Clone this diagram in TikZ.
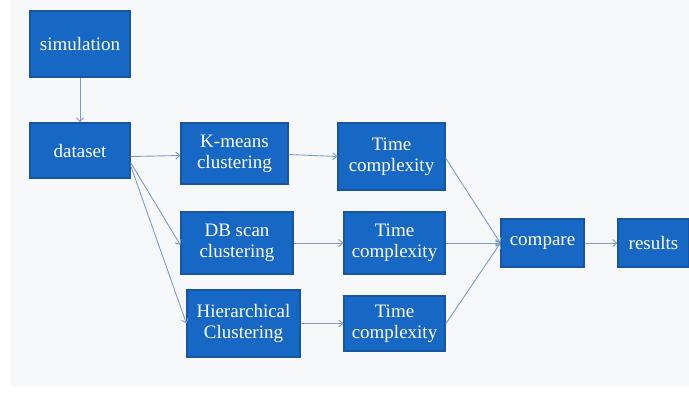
\documentclass[tikz,border=0pt]{standalone}
\usepackage{fontspec}
\setmainfont{Liberation Serif}
\usetikzlibrary{arrows.meta}
\definecolor{boxfill}{HTML}{1767C4}
\definecolor{boxline}{HTML}{1A55A0}
\definecolor{linkc}{HTML}{7F9DC2}
\definecolor{bg}{HTML}{F7F8FA}
\tikzset{
  blk/.style={draw=boxline, line width=1.2pt, fill=boxfill, text=white, align=center,
    font=\fontsize{19}{21}\selectfont, inner sep=0pt},
  link/.style={draw=linkc, line width=0.9pt, -{Straight Barb[length=4pt,width=7pt,line width=0.9pt]}},
}
\newcommand{\blkbox}[6]{% name, x1, y1, x2, y2, text
  \node[blk, minimum width=#4pt-#2pt, minimum height=#5pt-#3pt] (#1) at ({(#2+#4)/2}, {(#3+#5)/2}) {#6};
}
\begin{document}
\begin{tikzpicture}[x=1pt, y=-1pt]
\useasboundingbox (0,0) rectangle (689,400);
\fill[white] (0,0) rectangle (689,400);
\fill[bg] (10,0) rectangle (689,386);
\blkbox{sim}{30}{11}{130}{77}{simulation}
\blkbox{data}{30}{123}{130}{178}{dataset}
\blkbox{km}{181}{123}{288}{184}{K-means\\clustering}
\blkbox{t1}{338}{123}{445}{190}{Time\\complexity}
\blkbox{db}{181}{212}{293}{274}{DB scan\\clustering}
\blkbox{t2}{344}{212}{445}{274}{Time\\complexity}
\blkbox{hc}{187}{290}{300}{357}{Hierarchical\\Clustering}
\blkbox{t3}{344}{296}{445}{351}{Time\\complexity}
\blkbox{cmp}{501}{219}{584}{267}{compare}
\blkbox{res}{618}{219}{689}{267}{results}
\draw[link] (sim.south) -- (data.north);
\draw[link] ([yshift=-6pt]data.east) -- ([yshift=-2pt]km.west);
\draw[link] ([yshift=-12pt]data.east) -- ([yshift=-2pt]db.west);
\draw[link] ([yshift=-15pt]data.east) -- ([yshift=-0pt]hc.west);
\draw[link] ([yshift=-1pt]km.east) -- ([yshift=0pt]t1.west);
\draw[link] (db.east) -- (t2.west);
\draw[link] (hc.east) -- ([yshift=0pt]t3.west);
\draw[link] ([yshift=-1.5pt]t1.east) -- (cmp.west);
\draw[link] (t2.east) -- (cmp.west);
\draw[link] ([yshift=-0.5pt]t3.east) -- (cmp.west);
\draw[link] (cmp.east) -- (res.west);
\end{tikzpicture}
\end{document}
